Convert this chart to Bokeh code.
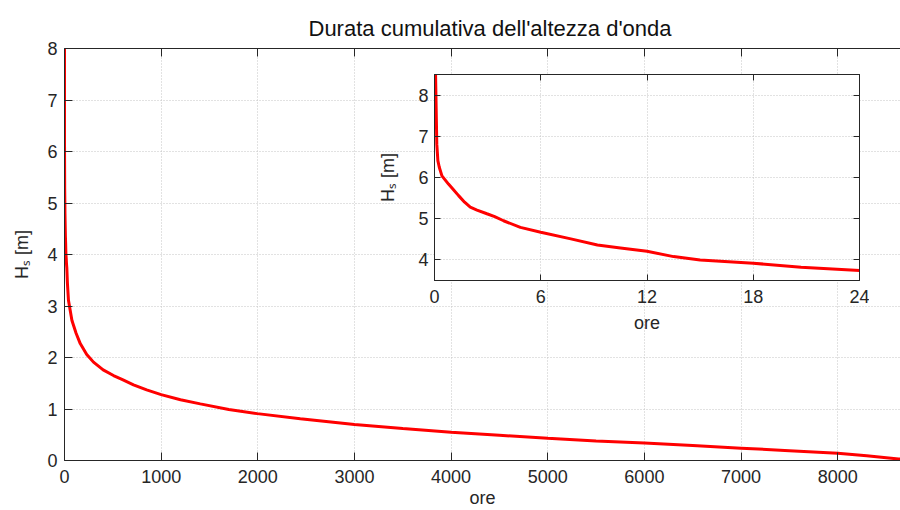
from bokeh.plotting import figure
from bokeh.models import Range1d, LinearAxis, GridBox, CustomJSTickFormatter
from bokeh.embed import file_html
from bokeh.resources import INLINE

# ---- data ----
ore = [0, 0.06, 0.13, 0.19, 0.27, 0.42, 0.79, 1.0, 1.36, 1.7, 2.02, 2.4, 2.96,
       3.4, 3.9, 4.85, 6.0, 7.7, 9.2, 10.5, 12, 13.5, 15, 18, 20.7, 24, 30, 41,
       77, 120, 163, 230, 300, 400, 507, 600, 714, 850, 1000, 1200, 1405, 1700,
       1995, 2440, 3000, 3500, 4000, 4500, 5000, 5500, 6000, 6500, 7000, 7500,
       8000, 8300, 8630, 8760]
hs = [8.9, 8.5, 6.81, 6.41, 6.25, 6.04, 5.84, 5.74, 5.56, 5.40, 5.28, 5.21, 5.12,
      5.05, 4.95, 4.79, 4.67, 4.51, 4.36, 4.29, 4.21, 4.08, 4.0, 3.92, 3.82, 3.74,
      3.45, 3.11, 2.72, 2.47, 2.27, 2.06, 1.91, 1.76, 1.65, 1.57, 1.47, 1.37, 1.28,
      1.18, 1.10, 0.99, 0.91, 0.81, 0.70, 0.62, 0.55, 0.49, 0.43, 0.38, 0.34, 0.29,
      0.24, 0.19, 0.14, 0.09, 0.03, 0.0]

main_xticks = [0, 1000, 2000, 3000, 4000, 5000, 6000, 7000, 8000]
main_yticks = [0, 1, 2, 3, 4, 5, 6, 7, 8]
inset_xticks = [0, 6, 12, 18, 24]
inset_yticks = [4, 5, 6, 7, 8]

title_text = "Durata cumulativa dell'altezza d'onda"
xlabel = "ore"
ylabel = "H\u209b [m]"

FONT = "Liberation Sans"
AX = "#262626"
GRID = "#c4c4c4"
RED = "#ff0000"


def style_axis(ax, ticks, tick_in, standoff, labels=True, label=None, label_standoff=0):
    ax.ticker = ticks
    ax.axis_line_color = AX
    ax.major_tick_line_color = AX
    ax.major_tick_in = tick_in
    ax.major_tick_out = 0
    ax.minor_tick_line_color = None
    ax.major_label_text_font = FONT
    ax.major_label_text_color = AX
    ax.major_label_standoff = standoff
    ax.major_label_text_font_size = "18px"
    if not labels:
        ax.formatter = CustomJSTickFormatter(code="return ''")
    if label is not None:
        ax.axis_label = label
        ax.axis_label_text_font = FONT
        ax.axis_label_text_font_size = "18px"
        ax.axis_label_text_font_style = "normal"
        ax.axis_label_text_color = AX
        ax.axis_label_standoff = label_standoff


def style_grid(fig):
    for g in (fig.xgrid, fig.ygrid):
        g.grid_line_color = GRID
        g.grid_line_dash = "1 2"
        g.grid_line_width = 1


# ---- main plot ----
p = figure(width=900, height=510, x_range=Range1d(0, 8650), y_range=Range1d(0, 8),
           output_backend="svg", toolbar_location=None,
           min_border_left=64, min_border_top=48, min_border_bottom=50, min_border_right=0,
           title=title_text)
p.title.text_font = FONT
p.title.text_font_size = "22px"
p.title.text_font_style = "normal"
p.title.text_color = "#111111"
p.title.align = "left"
p.title.offset = 244
p.title.standoff = 16
p.outline_line_color = None
p.border_fill_color = "white"
p.background_fill_color = "white"

style_axis(p.xaxis[0], main_xticks, 8, 9, label=xlabel, label_standoff=2)
style_axis(p.yaxis[0], main_yticks, 8, 7, label=ylabel, label_standoff=12)
top_axis = LinearAxis()
style_axis(top_axis, main_xticks, 8, 0, labels=False)
p.add_layout(top_axis, "above")
style_grid(p)
p.line(ore, hs, line_color=RED, line_width=3)

# ---- inset ----
ins = figure(width=495, height=276, x_range=Range1d(0, 24), y_range=Range1d(3.5, 8.5),
             output_backend="svg", toolbar_location=None,
             min_border_left=60, min_border_top=10, min_border_bottom=60, min_border_right=10)
ins.border_fill_color = None
ins.background_fill_color = "white"
ins.outline_line_color = AX
style_axis(ins.xaxis[0], inset_xticks, 6, 9, label=xlabel, label_standoff=7)
style_axis(ins.yaxis[0], inset_yticks, 6, 6, label=ylabel, label_standoff=17)
ins_top = LinearAxis()
style_axis(ins_top, inset_xticks, 6, 0, labels=False)
ins.add_layout(ins_top, "above")
ins_right = LinearAxis()
style_axis(ins_right, inset_yticks, 6, 0, labels=False)
ins.add_layout(ins_right, "right")
style_grid(ins)
ins.line(ore, hs, line_color=RED, line_width=3)

layout = GridBox(children=[(p, 0, 0, 3, 3), (ins, 1, 1, 1, 1)],
                 rows=["64px", "276px", "170px"],
                 cols=["374px", "495px", "31px"],
                 spacing=0)

open("out.html", "w").write(file_html(layout, INLINE))
